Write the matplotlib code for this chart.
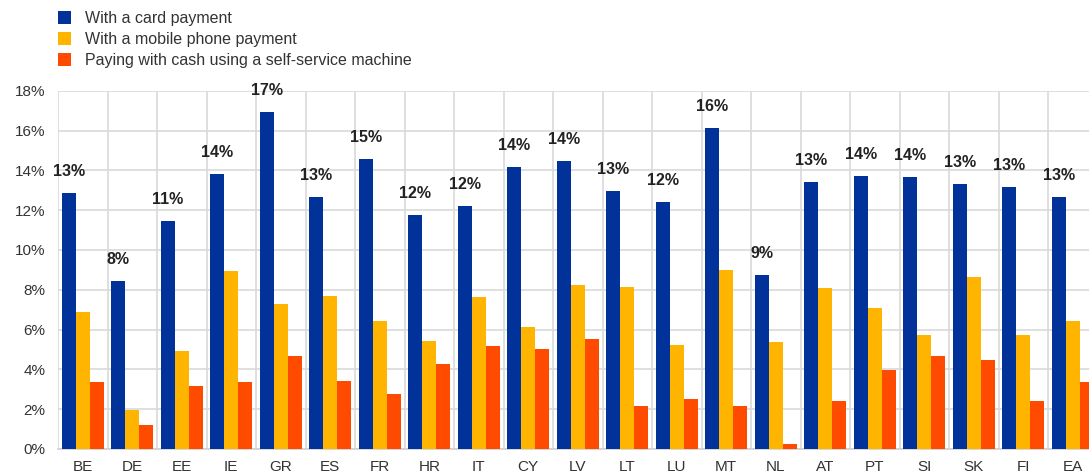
import matplotlib
matplotlib.use("Agg")
import matplotlib.pyplot as plt
import numpy as np
from matplotlib.ticker import FixedLocator, FuncFormatter
from matplotlib.patches import Patch

categories = ["BE", "DE", "EE", "IE", "GR", "ES", "FR", "HR", "IT", "CY", "LV",
              "LT", "LU", "MT", "NL", "AT", "PT", "SI", "SK", "FI", "EA"]
card = [12.85, 8.43, 11.44, 13.8, 16.95, 12.66, 14.59, 11.76, 12.21, 14.19, 14.46,
        12.98, 12.4, 16.11, 8.76, 13.43, 13.73, 13.68, 13.3, 13.18, 12.65]
mobile = [6.9, 1.98, 4.91, 8.94, 7.27, 7.67, 6.45, 5.41, 7.65, 6.12, 8.22,
          8.16, 5.23, 9.0, 5.36, 8.11, 7.07, 5.73, 8.63, 5.73, 6.45]
cash = [3.37, 1.19, 3.18, 3.37, 4.66, 3.43, 2.75, 4.25, 5.16, 5.04, 5.54,
        2.14, 2.53, 2.14, 0.23, 2.4, 3.95, 4.66, 4.46, 2.4, 3.37]
series_names = ["With a card payment", "With a mobile phone payment",
                "Paying with cash using a self-service machine"]
colors = ["#003299", "#FFB400", "#FF4B00"]
yticks = [0, 2, 4, 6, 8, 10, 12, 14, 16, 18]

plt.rcParams['font.family'] = ['Liberation Sans', 'DejaVu Sans']

fig = plt.figure(figsize=(10.89, 4.75), dpi=100)
ax = fig.add_axes([58 / 1089, 1 - 449 / 475, 1 - 58 / 1089, (449 - 90.7) / 475])

x = np.arange(len(categories))
w = 0.283
for off, vals, col in zip([-w, 0, w], [card, mobile, cash], colors):
    ax.bar(x + off, vals, width=w, color=col, zorder=3, linewidth=0)

for xi, v in zip(x, card):
    ax.annotate(f"{round(v)}%", (xi - w, v), xytext=(0, 15.5), textcoords="offset points",
                ha="center", va="center", fontsize=11.5, fontweight="bold", color="#222222",
                zorder=4)

ax.set_xlim(-0.5, -0.5 + 1031 / 49.5)
ax.set_ylim(0, 18)
ax.yaxis.set_major_locator(FixedLocator(yticks))
ax.yaxis.set_major_formatter(FuncFormatter(lambda v, p: f"{int(v)}%"))
ax.set_xticks(x)
ax.set_xticklabels(categories)
ax.xaxis.set_minor_locator(FixedLocator(np.arange(-0.5, len(categories), 1.0)))
ax.grid(axis="y", which="major", color="#d9d9d9", linewidth=1.2, zorder=0)
ax.grid(axis="x", which="minor", color="#d9d9d9", linewidth=1.2, zorder=0)
ax.tick_params(axis="both", which="both", length=0, labelsize=11, colors="#333333")
ax.tick_params(axis="x", pad=8)
ax.tick_params(axis="y", pad=9)
for s in ["top", "right", "left"]:
    ax.spines[s].set_visible(False)
ax.spines["bottom"].set_color("#d0d0d0")
ax.spines["bottom"].set_linewidth(1.2)

handles = [Patch(facecolor=c, edgecolor="none") for c in colors]
fig.legend(handles, series_names, loc="upper left",
           bbox_to_anchor=(58 / 1089, 1 - 11 / 475), frameon=False, fontsize=11.5,
           handlelength=0.83, handleheight=0.83, handletextpad=0.85,
           labelspacing=0.38, borderpad=0, borderaxespad=0, labelcolor="#333333")

fig.savefig("out.png", dpi=100)
